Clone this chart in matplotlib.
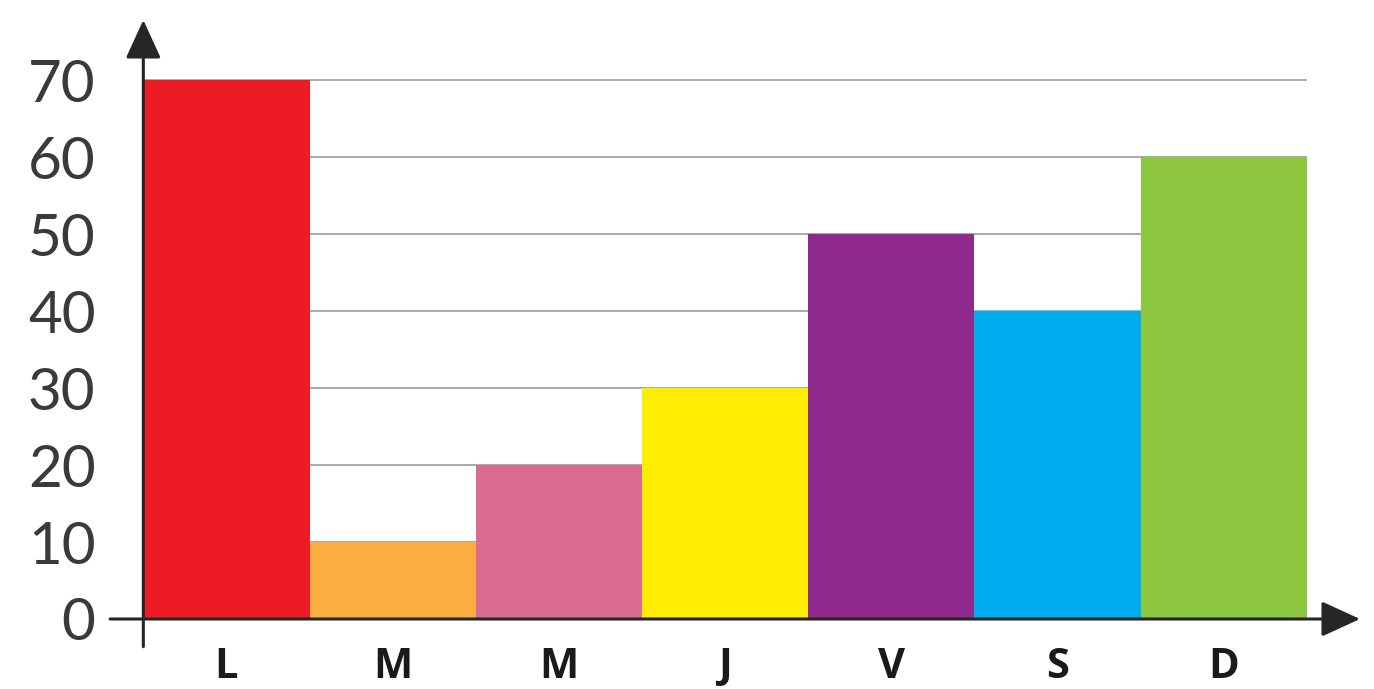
import matplotlib.pyplot as plt
import numpy as np

days = ["L", "M", "M", "J", "V", "S", "D"]
values = [70, 10, 20, 30, 50, 40, 60]
colors = ["#ED1C24", "#FBAE3F", "#DB6B91", "#FFED00", "#8E2A8E", "#00AEEF", "#8DC63F"]
yticks = [0, 10, 20, 30, 40, 50, 60, 70]

fig = plt.figure(figsize=(13.74, 6.89), dpi=100)
ax = fig.add_axes([140 / 1374, 1 - 619 / 689, 1220 / 1374, 599 / 689])

x = np.arange(len(days))
ax.bar(x, values, width=1.0, align="edge", color=colors, zorder=2)

# horizontal guide lines behind the bars
ax.hlines(yticks[1:], 0, len(days), color="#a3a3a3", linewidth=1.3, zorder=1)

ax.set_xlim(-0.02, 7.32)
ax.set_ylim(0, 77.8)

for s in ax.spines.values():
    s.set_visible(False)

# axes drawn as arrows
arrow = dict(arrowstyle="-|>,head_length=0.48,head_width=0.22", color="#262626",
             lw=2.2, mutation_scale=50, shrinkA=0, shrinkB=0)
ax.annotate("", xy=(7.32, 0), xytext=(-0.2, 0), annotation_clip=False,
            arrowprops=arrow, zorder=3)
ax.annotate("", xy=(0, 77.8), xytext=(0, -3.6), annotation_clip=False,
            arrowprops=arrow, zorder=3)

ax.set_yticks(yticks)
ax.set_yticklabels([str(t) for t in yticks], fontsize=42, color="#3a3a3a",
                   fontfamily="Lato", fontweight="normal")
ax.tick_params(axis="y", length=0, pad=32)

ax.set_xticks(x + 0.5)
ax.set_xticklabels(days, fontsize=30, fontweight="bold", color="#1a1a1a",
                   fontfamily="Open Sans")
ax.tick_params(axis="x", length=0, pad=20)

fig.savefig("out.png", dpi=100)
